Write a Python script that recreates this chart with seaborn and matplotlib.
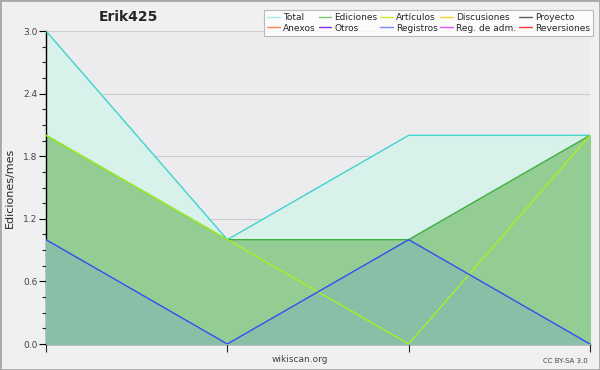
import matplotlib
matplotlib.use('Agg')
import matplotlib.pyplot as plt
import seaborn as sns
import pandas as pd
import numpy as np
from matplotlib.lines import Line2D
from matplotlib.patches import Rectangle
from matplotlib.ticker import MultipleLocator

# Data
months = [0, 1, 2, 3]
total = [3, 1, 2, 2]
ediciones = [2, 1, 1, 2]
articulos = [2, 1, 0, 2]
registros = [1, 0, 1, 0]

legend_names = ['Total', 'Ediciones', 'Artículos', 'Discusiones', 'Proyecto',
                'Anexos', 'Otros', 'Registros', 'Reg. de adm.', 'Reversiones']
legend_colors = ['#a8ecec', '#78c878', '#c4f030', '#ffd030', '#606060',
                 '#ff8848', '#8030e0', '#7888ff', '#e050ff', '#ff3838']

df = pd.DataFrame({'mes': months, 'Total': total, 'Ediciones': ediciones,
                   'Artículos': articulos, 'Registros': registros})

sns.set_style('white')
plt.rcParams['font.family'] = ['DejaVu Sans']

fig = plt.figure(figsize=(6, 3.7), dpi=100, facecolor='#f0f0f0')
ax = fig.add_axes([46/600, 1-344/370, 544/600, 313/370])
ax.set_facecolor('#ececee')

# areas
ax.fill_between(df['mes'], 0, df['Total'], color='#d8f1eb', zorder=1)
ax.fill_between(df['mes'], 0, df['Ediciones'], color='#93cd93', zorder=2)
ax.fill_between(df['mes'], 0, df['Registros'], color='#88c0a7', zorder=3)

# lines
sns.lineplot(data=df, x='mes', y='Total', color='#40d4cc', lw=1, ax=ax, zorder=4)
sns.lineplot(data=df, x='mes', y='Ediciones', color='#40b040', lw=1, ax=ax, zorder=5)
sns.lineplot(data=df, x='mes', y='Artículos', color='#a8f020', lw=1, ax=ax, zorder=6)
sns.lineplot(data=df, x='mes', y='Registros', color='#3050f0', lw=1, ax=ax, zorder=7)

ax.set_xlim(0, 3)
ax.set_ylim(0, 3)
ax.yaxis.set_major_locator(MultipleLocator(0.6))
ax.yaxis.set_minor_locator(MultipleLocator(0.15))
ax.set_xticks(months)
ax.set_xticklabels([])
ax.yaxis.set_major_formatter(matplotlib.ticker.FormatStrFormatter('%.1f'))
ax.grid(axis='y', color='#cccccc', lw=0.8, zorder=0)
ax.set_axisbelow(True)
for s in ['top', 'right']:
    ax.spines[s].set_visible(False)
for s in ['left', 'bottom']:
    ax.spines[s].set_color('black')
    ax.spines[s].set_linewidth(1)
ax.tick_params(axis='y', which='major', left=True, length=5, width=0.8, labelsize=6.5, pad=1, colors='black')
ax.tick_params(axis='y', which='minor', left=True, length=3, width=0.8)
ax.tick_params(axis='x', bottom=True, length=6, width=0.8)
ax.tick_params(labelcolor='#444444')
ax.set_xlabel('')
ax.set_ylabel('Ediciones/mes', fontsize=8, labelpad=6)

fig.text(128/600, 1-17/370, 'Erik425', fontsize=10, fontweight='bold', ha='center', va='center')
fig.text(300/600, 1-360/370, 'wikiscan.org', fontsize=6.5, color='#444444', ha='center', va='center')
fig.text(588/600, 1-361/370, 'CC BY-SA 3.0', fontsize=5, color='#444444', ha='right', va='center')

# legend, column-wise order to get two rows
order = [0, 5, 1, 6, 2, 7, 3, 8, 4, 9]
handles = [Line2D([], [], color=legend_colors[i], lw=1) for i in order]
labels = [legend_names[i] for i in order]
leg = fig.legend(handles, labels, ncol=5, loc='upper right', bbox_to_anchor=(593/600, 1-10/370),
                 fontsize=6.5, frameon=True, fancybox=False, handlelength=1.4, handletextpad=0.35,
                 columnspacing=0.3, labelspacing=0.15, borderpad=0.35, borderaxespad=0)
leg.get_frame().set_edgecolor('#aaaaaa')
leg.get_frame().set_facecolor('white')
leg.get_frame().set_linewidth(0.8)

fig.patches.append(Rectangle((0, 0), 1, 1, transform=fig.transFigure, fill=False,
                             edgecolor='#a8a8a8', lw=2))

fig.savefig('out.png', dpi=100, facecolor=fig.get_facecolor())
